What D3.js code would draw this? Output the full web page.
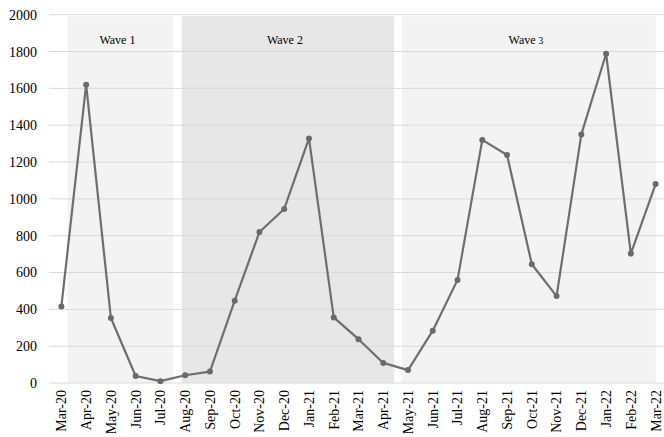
<!DOCTYPE html>
<meta charset="utf-8">
<head>
    <style>
        body {margin: 0; background: #fff;}
        svg text {font-family: 'Liberation Serif', 'Times New Roman', Times, serif !important; fill: #000;}
        .grid line {stroke: #d9d9d9; stroke-width: 1;}
        .axis path, .axis line {display: none;}
    </style>
    <script src="https://d3js.org/d3.v7.min.js"></script>
</head>
<body>
<script>

    var months = ["Mar-20","Apr-20","May-20","Jun-20","Jul-20","Aug-20","Sep-20","Oct-20","Nov-20","Dec-20",
                  "Jan-21","Feb-21","Mar-21","Apr-21","May-21","Jun-21","Jul-21","Aug-21","Sep-21","Oct-21",
                  "Nov-21","Dec-21","Jan-22","Feb-22","Mar-22"];
    var values = [415, 1620, 353, 38, 10, 42, 62, 447, 820, 945,
                  1328, 356, 238, 109, 70, 284, 560, 1320, 1238, 645,
                  472, 1350, 1788, 703, 1080];
    var yTicks = [0, 200, 400, 600, 800, 1000, 1200, 1400, 1600, 1800, 2000];

    // waves: start / end in month-index units
    var waveNames = ["Wave 1", "Wave 2", "Wave 3"];
    var waveStart = [0.25, 4.86, 13.76];
    var waveEnd = [4.52, 13.44, 24.01];
    var waveFill = ["#f3f3f3", "#e7e7e7", "#f3f3f3"];

    var width = 664, height = 437,
        plotLeft = 49, plotTop = 14.7, plotBottom = 383;

    var svg = d3.select("body").append("svg")
        .attr("width", width)
        .attr("height", height)

    var x = d3.scaleBand()
        .domain(months)
        .range([plotLeft, plotLeft + 25 * 24.76]);

    var xi = d3.scaleLinear()
        .domain([0, months.length - 1])
        .range([x(months[0]) + x.bandwidth()/2, x(months[months.length-1]) + x.bandwidth()/2]);

    var y = d3.scaleLinear()
        .domain([0, 2000])
        .range([plotBottom, plotTop]);

    // wave backgrounds
    svg.append("g").selectAll("rect")
        .data(waveNames)
      .enter().append("rect")
        .attr("x", function(d, i) {return xi(waveStart[i])})
        .attr("width", function(d, i) {return xi(waveEnd[i]) - xi(waveStart[i])})
        .attr("y", y(2000) + 1.5)
        .attr("height", y(0) - y(2000) - 1.5)
        .attr("fill", function(d, i) {return waveFill[i]})

    // gridlines
    svg.append("g").attr("class", "grid")
        .selectAll("line")
        .data(yTicks)
      .enter().append("line")
        .attr("x1", plotLeft)
        .attr("x2", width)
        .attr("y1", function(d) {return y(d)})
        .attr("y2", function(d) {return y(d)})

    // y axis labels
    svg.append("g").attr("class", "axis")
        .attr("transform", "translate(" + (plotLeft - 4) + ",0)")
        .call(d3.axisLeft(y).tickValues(yTicks).tickFormat(d3.format("d")).tickSize(0).tickPadding(8))
        .attr("font-family", null)
        .selectAll("text")
        .style("font-size", "14px")
        .attr("fill", "#000")

    // x axis labels
    svg.append("g").attr("class", "axis")
        .attr("transform", "translate(0," + plotBottom + ")")
        .call(d3.axisBottom(x).tickSize(0))
        .attr("font-family", null)
        .selectAll("text")
        .style("font-size", "14px")
        .attr("fill", "#000")
        .attr("text-anchor", "end")
        .attr("transform", "rotate(-90)")
        .attr("x", -7)
        .attr("y", 0)
        .attr("dy", "0.35em")

    // wave labels
    var wl = svg.append("g").selectAll("text")
        .data(waveNames)
      .enter().append("text")
        .attr("x", function(d, i) {return (xi(waveStart[i]) + xi(waveEnd[i])) / 2 - 3})
        .attr("y", 44)
        .attr("text-anchor", "middle")
        .style("font-size", "12px")

    wl.append("tspan").text(function(d) {return d.split(" ")[0] + " "})
    wl.append("tspan")
        .style("font-size", function(d, i) {return i == 2 ? "9.5px" : "12px"})
        .text(function(d) {return d.split(" ")[1]})

    // line
    var line = d3.line()
        .x(function(d, i) {return xi(i)})
        .y(function(d) {return y(d)});

    svg.append("path")
        .datum(values)
        .attr("fill", "none")
        .attr("stroke", "#6e6e6e")
        .attr("stroke-width", 2.2)
        .attr("stroke-linejoin", "round")
        .attr("d", line)

    svg.append("g").selectAll("circle")
        .data(values)
      .enter().append("circle")
        .attr("cx", function(d, i) {return xi(i)})
        .attr("cy", function(d) {return y(d)})
        .attr("r", 3)
        .attr("fill", "#6a6a6a")

</script>
</body>
